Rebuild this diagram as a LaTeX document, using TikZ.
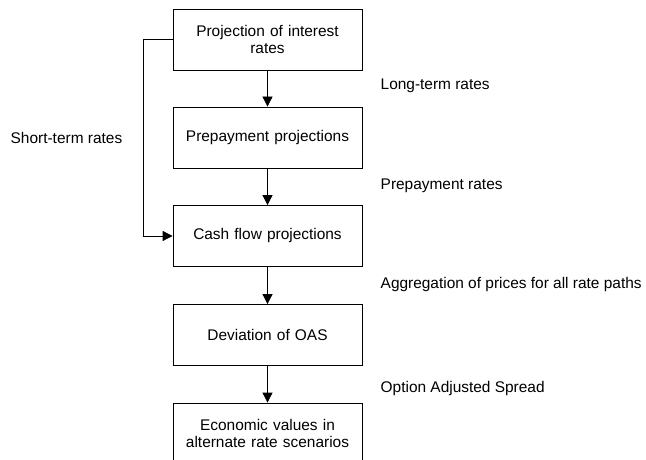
\documentclass[tikz,border=0pt]{standalone}
\usepackage{fontspec}
\setmainfont{Liberation Sans}
\usetikzlibrary{arrows.meta}
\begin{document}
\begin{tikzpicture}[x=1bp,y=-1bp,
  stepbox/.style={draw, line width=0.8bp, minimum width=189bp, minimum height=61bp,
    inner sep=0pt, align=center, text width=185bp, font=\fontsize{15.5}{17.7}\selectfont},
  lbl/.style={anchor=west, inner sep=0pt, font=\fontsize{15.5}{17.7}\selectfont},
  flow/.style={line width=0.8bp, -{Triangle[length=10bp,width=10bp]}}]
\useasboundingbox (0,0) rectangle (646,460);
% process boxes, top to bottom
\node[stepbox] (proj) at (267.5,39.5) {Projection of interest\\rates};
\node[stepbox] (prep) at (267.5,137.5) {Prepayment projections};
\node[stepbox] (cash) at (267.5,236) {Cash flow projections};
\node[stepbox] (oas)  at (267.5,335) {Deviation of OAS};
\node[stepbox] (econ) at (267.5,433.5) {Economic values in\\alternate rate scenarios};
% bypass path for short-term rates
\coordinate (bend1) at (143.5,39.5);
\coordinate (bend2) at (143.5,236);
\draw[flow] (proj) -- (prep);
\draw[flow] (prep) -- (cash);
\draw[flow] (cash) -- (oas);
\draw[flow] (oas) -- (econ);
\draw[flow] (proj.west) -- (bend1) -- (bend2) -- (cash.west);
% flow labels
\node[lbl] (lt) at (380.5,86.2) {Long-term rates};
\node[lbl] (st) at (10.5,137.5) {Short-term rates};
\node[lbl] (pr) at (380.5,185.5) {Prepayment rates};
\node[lbl] (ag) at (380.5,284.5) {Aggregation of prices for all rate paths};
\node[lbl] (oa) at (380.5,388.5) {Option Adjusted Spread};
\end{tikzpicture}
\end{document}
